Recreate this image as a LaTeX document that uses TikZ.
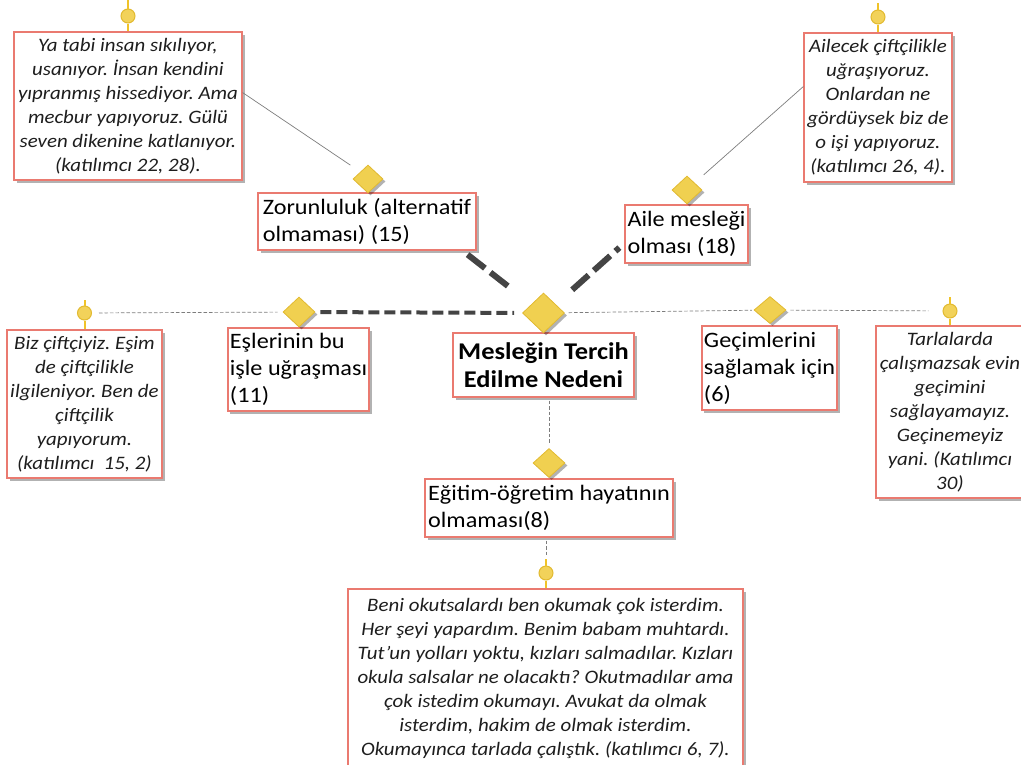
\documentclass[tikz,border=0pt]{standalone}
\usepackage{fontspec}
\setmainfont{Carlito}[FakeStretch=1.1]
\usetikzlibrary{shapes.geometric,shadows,calc}
\definecolor{boxred}{RGB}{234,122,112}
\definecolor{dyellow}{RGB}{240,208,80}
\definecolor{dyellowd}{RGB}{226,186,48}
\definecolor{cyellow}{RGB}{242,210,90}
\definecolor{stemcol}{RGB}{240,195,40}
\definecolor{thickgray}{RGB}{68,68,68}
\definecolor{thingray}{RGB}{125,125,125}
\definecolor{qtext}{RGB}{30,30,30}
\tikzset{
 sh/.style={drop shadow={shadow xshift=2.5pt,shadow yshift=-2.5pt,fill=black,opacity=0.3}},
 quote/.style={draw=boxred,line width=1.2pt,fill=white,sh,align=center,inner sep=2pt,font=\fontsize{19}{24}\selectfont\itshape\frenchspacing,text=qtext},
 code/.style={draw=boxred,line width=1.2pt,fill=white,sh,align=left,inner sep=2pt,font=\fontsize{22}{27}\selectfont\frenchspacing},
 core/.style={draw=boxred,line width=1.2pt,fill=white,sh,align=center,inner sep=2pt,font=\fontsize{24}{28}\selectfont\bfseries},
 dia/.style={diamond,draw=dyellowd,fill=dyellow,line width=0.8pt,inner sep=0pt,minimum width=31pt,minimum height=29pt,sh},
 dot/.style={circle,draw=dyellowd,fill=cyellow,line width=1pt,inner sep=0pt,minimum size=14pt},
 stemline/.style={stemcol,line width=2pt},
 thinline/.style={thingray,line width=0.7pt},
 thindash/.style={thinline,dash pattern=on 3.5pt off 2pt},
 heavyh/.style={thickgray,line width=4pt,dash pattern=on 11pt off 5pt},
 heavyd/.style={thickgray,line width=6pt,dash pattern=on 22pt off 7pt},
}
\begin{document}
\frenchspacing
\begin{tikzpicture}[x=1pt,y=-1pt]
\useasboundingbox (0,0) rectangle (1021,764);

% quote boxes
\node[quote,minimum width=228pt,minimum height=148pt] (q1) at (128,106)
 {Ya tabi insan sıkılıyor,\\usanıyor. İnsan kendini\\yıpranmış hissediyor. Ama\\mecbur yapıyoruz. Gülü\\seven dikenine katlanıyor.\\(katılımcı 22, 28).};
\node[quote,minimum width=148pt,minimum height=149pt] (q2) at (878,107.5)
 {Ailecek çiftçilikle\\uğraşıyoruz.\\Onlardan ne\\gördüysek biz de\\o işi yapıyoruz.\\(katılımcı 26, 4).};
\node[quote,minimum width=155pt,minimum height=148pt] (q3) at (84.5,404)
 {Biz çiftçiyiz. Eşim\\de çiftçilikle\\ilgileniyor. Ben de\\çiftçilik\\yapıyorum.\\(katılımcı\ \ 15, 2)};
\node[quote,minimum width=148pt,minimum height=172pt] (q4) at (950,412)
 {Tarlalarda\\çalışmazsak evin\\geçimini\\sağlayamayız.\\Geçinemeyiz\\yani. (Katılımcı\\30)};
\node[quote,minimum width=395pt,minimum height=178pt] (q5) at (545.5,678)
 {Beni okutsalardı ben okumak çok isterdim.\\Her şeyi yapardım. Benim babam muhtardı.\\Tut'un yolları yoktu, kızları salmadılar. Kızları\\okula salsalar ne olacaktı? Okutmadılar ama\\çok istedim okumayı. Avukat da olmak\\isterdim, hakim de olmak isterdim.\\Okumayınca tarlada çalıştık. (katılımcı 6, 7).};

% code boxes
\node[code,minimum width=218pt,minimum height=57pt] (b1) at (367,221.5)
 {Zorunluluk (alternatif\\olmaması) (15)};
\node[code,minimum width=123pt,minimum height=58pt] (b2) at (686.5,234)
 {Aile mesleği\\olması (18)};
\node[code,minimum width=141pt,minimum height=83pt] (b3) at (298.5,369.5)
 {Eşlerinin bu\\işle uğraşması\\(11)};
\node[code,minimum width=135pt,minimum height=84pt] (b4) at (769.5,368)
 {Geçimlerini\\sağlamak için\\(6)};
\node[code,minimum width=248pt,minimum height=58pt] (b5) at (549,508)
 {Eğitim-öğretim hayatının\\olmaması(8)};
\node[core,minimum width=181pt,minimum height=64pt] (b0) at (543.5,365)
 {Mesleğin Tercih\\Edilme Nedeni};

% diamonds
\node[dia,minimum width=42pt,minimum height=40pt] (d0) at (543.5,313) {};
\node[dia,minimum width=30pt,minimum height=28pt] (d1) at (368,179) {};
\node[dia,minimum width=30pt,minimum height=28pt] (d2) at (687,190) {};
\node[dia,minimum width=32pt,minimum height=30pt] (d3) at (299,312) {};
\node[dia,minimum width=32pt,minimum height=27pt] (d4) at (770,310) {};
\node[dia,minimum width=32pt,minimum height=29pt] (d5) at (549,463) {};

% yellow dots and stems
\node[dot] (c1) at (128,16) {};
\node[dot] (c2) at (878,17) {};
\node[dot] (c3) at (84.5,313) {};
\node[dot] (c4) at (950,311) {};
\node[dot] (c5) at (546,573) {};
\coordinate (t1) at (128,0);
\coordinate (t2) at (878,3);
\coordinate (t3) at (84.5,300);
\coordinate (t4) at (950,297);
\coordinate (t5) at (546,559);
\foreach \i in {1,...,5}{
  \draw[stemline] (t\i) -- (c\i);
  \draw[stemline] (c\i) -- (q\i.north -| c\i);
}

% thin connectors
\draw[thinline,shorten >=12pt] ($(q1.north east)!0.41!(q1.south east)$) -- (d1.north west);
\draw[thinline,shorten >=12pt] ($(q2.north west)!0.36!(q2.south west)$) -- (d2.north east);
\draw[thindash,shorten <=7pt,shorten >=5pt] (c3) -- (d3);
\draw[thindash,shorten <=4pt,shorten >=2pt] (d0) -- (d4);
\draw[thindash,shorten <=4pt,shorten >=14pt] (d4) -- (c4);
\draw[thindash,shorten <=3pt,shorten >=4pt] (d5.north |- b0.south) -- (d5.north);
\draw[thindash,shorten <=3pt,shorten >=10pt] (c5 |- b5.south) -- (c5);

% heavy dashed connectors
\draw[heavyh,shorten <=5pt,shorten >=8pt] (d3) -- (d0);
\draw[heavyd] ($(b1.south east)+(-9,4)$) -- ($(d0.north west)+(-24,-16)$);
\draw[heavyd] ($(d0.north east)+(18,-13)$) -- ($(b2.south west)+(-5,-16)$);
\end{tikzpicture}
\end{document}
